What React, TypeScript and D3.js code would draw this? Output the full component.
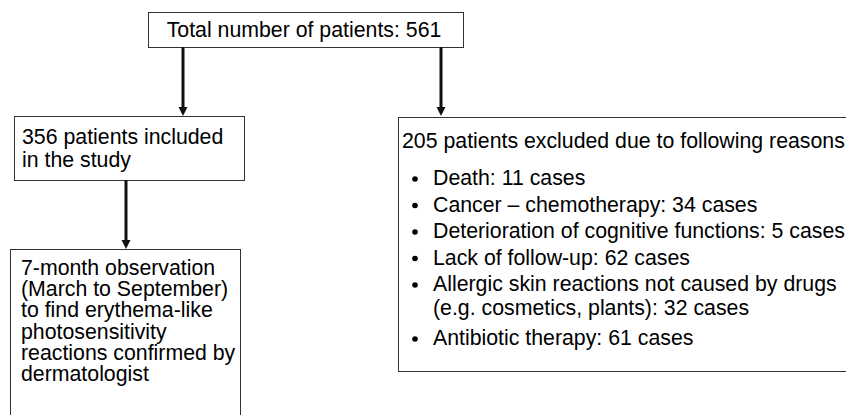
import React from "react";
import * as d3 from "d3";

const totalLines = ["Total number of patients: 561"];
const includedLines = ["356 patients included", "in the study"];
const observationLines = [
  "7-month observation",
  "(March to September)",
  "to find erythema-like",
  "photosensitivity",
  "reactions confirmed by",
  "dermatologist",
];
const excludedHeader = ["205 patients excluded due to following reasons"];
const exclusionReasons = [
  ["Death: 11 cases"],
  ["Cancer \u2013 chemotherapy: 34 cases"],
  ["Deterioration of cognitive functions: 5 cases"],
  ["Lack of follow-up: 62 cases"],
  ["Allergic skin reactions not caused by drugs", "(e.g. cosmetics, plants): 32 cases"],
  ["Antibiotic therapy: 61 cases"],
];

const W = 846;
const H = 415;
const FONT = "Liberation Sans, Arial, sans-serif";
const FS = 21.3;

const Arrow = ({ x, y1, y2 }: { x: number; y1: number; y2: number }) => {
  const line = d3.line();
  const head = 9;
  return (
    <g>
      <path d={line([[x, y1], [x, y2 - head + 1]]) || ""} stroke="#111" strokeWidth={3} fill="none" />
      <path
        d={line([[x - 4.5, y2 - head], [x + 4.5, y2 - head], [x, y2]]) + "Z"}
        fill="#111"
      />
    </g>
  );
};

const Box = ({ x, y, w, h }: { x: number; y: number; w: number; h: number }) => (
  <rect x={x + 0.5} y={y + 0.5} width={w} height={h} fill="white" stroke="#333" strokeWidth={1} />
);

const App = () => {
  // bullet line baselines
  const reasonRows: { text: string; y: number; bullet: boolean }[] = [];
  const starts = [185, 211.5, 238, 264.5, 291, 345];
  exclusionReasons.forEach((r, i) => {
    r.forEach((t, j) => reasonRows.push({ text: t, y: starts[i] + j * 24, bullet: j === 0 }));
  });

  return (
    <svg
      width={W}
      height={H}
      style={{ position: "absolute", left: 0, top: 0, background: "white" }}
      fontFamily={FONT}
      fontSize={FS}
    >
      <Box x={148} y={12} w={315} h={35} />
      {totalLines.map((t, i) => (
        <text key={i} x={304} y={37} textAnchor="middle" fill="#000">
          {t}
        </text>
      ))}

      <Arrow x={183} y1={47} y2={116} />
      <Arrow x={441} y1={47} y2={116} />

      <Box x={14} y={116} w={230} h={64} />
      {includedLines.map((t, i) => (
        <text key={i} x={22} y={144 + i * 23} fill="#000">
          {t}
        </text>
      ))}

      <Arrow x={126} y1={180} y2={249} />

      <Box x={10} y={249} w={230} h={180} />
      {observationLines.map((t, i) => (
        <text key={i} x={21} y={275 + i * 21.2} fill="#000">
          {t}
        </text>
      ))}

      <Box x={398} y={117} w={470} h={254} />
      {excludedHeader.map((t, i) => (
        <text key={i} x={402} y={148} fill="#000">
          {t}
        </text>
      ))}
      {reasonRows.map((r, i) => (
        <g key={i}>
          {r.bullet && <circle cx={415} cy={r.y - 6} r={2.8} fill="#000" />}
          <text x={433} y={r.y} fill="#000">
            {r.text}
          </text>
        </g>
      ))}
    </svg>
  );
};

export default App;
